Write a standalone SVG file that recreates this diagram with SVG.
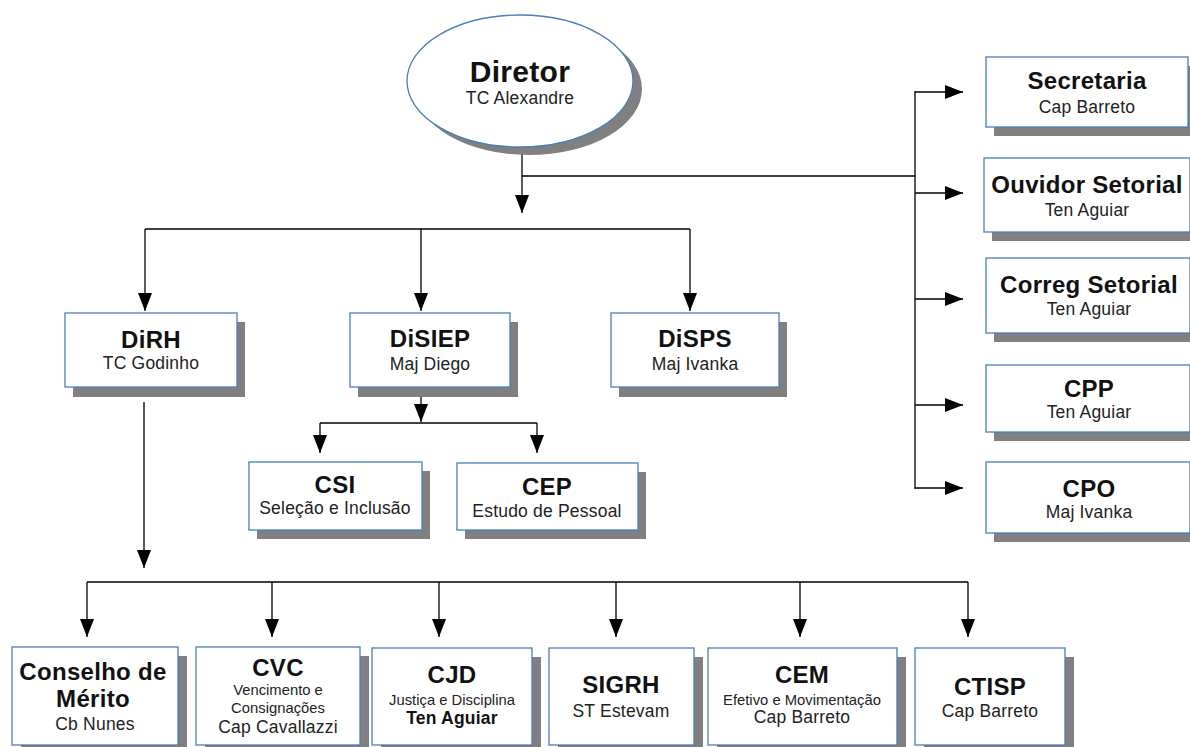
<svg xmlns="http://www.w3.org/2000/svg" width="1190" height="747" viewBox="0 0 1190 747">
<defs>
<marker id="ah" markerUnits="userSpaceOnUse" markerWidth="18" markerHeight="14" refX="18" refY="7" orient="auto"><path d="M0,0 L18,7 L0,14 z" fill="#000"/></marker>
<style>
.box{fill:#fff;stroke:#4a7ebb;stroke-width:1.3}
.sh{fill:#808080}
.ln{fill:none;stroke:#000;stroke-width:1.3}
.ar{fill:none;stroke:#000;stroke-width:1.3;marker-end:url(#ah)}
text{font-family:"Liberation Sans",Arial,sans-serif;text-anchor:middle;fill:#111}
.t{font-weight:bold;font-size:24px;letter-spacing:0.3px}
.s{font-size:17.5px;fill:#222;letter-spacing:0.2px}
.xs{font-size:14.8px;fill:#222}
.sb{font-size:17.5px;font-weight:bold;letter-spacing:0.2px}
</style>
</defs>
<rect width="1190" height="747" fill="#fff"/>
<g id="connectors">
<path class="ar" d="M522,148 V213"/>
<path class="ln" d="M522,176 H915 M915,91 V489"/>
<path class="ar" d="M915,92 H963"/>
<path class="ar" d="M915,193 H963"/>
<path class="ar" d="M915,299 H963"/>
<path class="ar" d="M915,405 H963"/>
<path class="ar" d="M915,488 H963"/>
<path class="ln" d="M145,229 H690"/>
<path class="ar" d="M145,229 V311"/>
<path class="ar" d="M421,229 V311"/>
<path class="ar" d="M690,229 V311"/>
<path class="ar" d="M421,388 V422"/>
<path class="ln" d="M320,423 H537"/>
<path class="ar" d="M320,423 V453"/>
<path class="ar" d="M537,423 V453"/>
<path class="ar" d="M144,402 V568"/>
<path class="ln" d="M87,582 H968"/>
<path class="ar" d="M87,582 V637"/>
<path class="ar" d="M272,582 V637"/>
<path class="ar" d="M439,582 V637"/>
<path class="ar" d="M616,582 V637"/>
<path class="ar" d="M800,582 V637"/>
<path class="ar" d="M968,582 V637"/>
</g>
<g id="diretor">
<ellipse class="sh" cx="529" cy="89" rx="113" ry="66"/>
<ellipse class="box" cx="520" cy="81" rx="113" ry="66"/>
<text class="t" x="520" y="82" style="font-size:30px">Diretor</text>
<text class="s" x="520" y="104">TC Alexandre</text>
</g>
<g id="secretaria">
<rect class="sh" x="994" y="66" width="202" height="70"/>
<rect class="box" x="986" y="57" width="202" height="70"/>
<text class="t" x="1087" y="89">Secretaria</text>
<text class="s" x="1087" y="113">Cap Barreto</text>
</g>
<g id="ouvidor">
<rect class="sh" x="992" y="167" width="206" height="74"/>
<rect class="box" x="984" y="158" width="206" height="74"/>
<text class="t" x="1087" y="193">Ouvidor Setorial</text>
<text class="s" x="1087" y="216">Ten Aguiar</text>
</g>
<g id="correg">
<rect class="sh" x="994" y="267" width="202" height="75"/>
<rect class="box" x="986" y="258" width="204" height="75"/>
<text class="t" x="1089" y="293">Correg Setorial</text>
<text class="s" x="1089" y="315">Ten Aguiar</text>
</g>
<g id="cpp">
<rect class="sh" x="994" y="374" width="202" height="67"/>
<rect class="box" x="986" y="365" width="204" height="67"/>
<text class="t" x="1089" y="397">CPP</text>
<text class="s" x="1089" y="418">Ten Aguiar</text>
</g>
<g id="cpo">
<rect class="sh" x="994" y="471" width="202" height="71"/>
<rect class="box" x="986" y="462" width="204" height="71"/>
<text class="t" x="1089" y="497">CPO</text>
<text class="s" x="1089" y="518">Maj Ivanka</text>
</g>
<g id="dirh">
<rect class="sh" x="73" y="322" width="172" height="75"/>
<rect class="box" x="65" y="313" width="172" height="74"/>
<text class="t" x="151" y="348">DiRH</text>
<text class="s" x="151" y="369">TC Godinho</text>
</g>
<g id="disiep">
<rect class="sh" x="358" y="322" width="160" height="75"/>
<rect class="box" x="350" y="313" width="160" height="74"/>
<text class="t" x="430" y="347">DiSIEP</text>
<text class="s" x="430" y="370">Maj Diego</text>
</g>
<g id="disps">
<rect class="sh" x="619" y="322" width="168" height="75"/>
<rect class="box" x="611" y="313" width="168" height="74"/>
<text class="t" x="695" y="347">DiSPS</text>
<text class="s" x="695" y="370">Maj Ivanka</text>
</g>
<g id="csi">
<rect class="sh" x="257" y="471" width="173" height="68"/>
<rect class="box" x="249" y="462" width="173" height="68"/>
<text class="t" x="335" y="493">CSI</text>
<text class="s" x="335" y="514">Seleção e Inclusão</text>
</g>
<g id="cep">
<rect class="sh" x="465" y="472" width="181" height="67"/>
<rect class="box" x="457" y="463" width="181" height="67"/>
<text class="t" x="547" y="495">CEP</text>
<text class="s" x="547" y="517">Estudo de Pessoal</text>
</g>
<g id="conselho">
<rect class="sh" x="21" y="656" width="166" height="98"/>
<rect class="box" x="12" y="647" width="166" height="98"/>
<text class="t" x="93" y="680">Conselho de</text>
<text class="t" x="93" y="707">Mérito</text>
<text class="s" x="95" y="730">Cb Nunes</text>
</g>
<g id="cvc">
<rect class="sh" x="205" y="656" width="164" height="98"/>
<rect class="box" x="196" y="647" width="164" height="98"/>
<text class="t" x="278" y="676">CVC</text>
<text class="xs" x="278" y="695">Vencimento e</text>
<text class="xs" x="278" y="713">Consignações</text>
<text class="s" x="278" y="733">Cap Cavallazzi</text>
</g>
<g id="cjd">
<rect class="sh" x="381" y="657" width="160" height="98"/>
<rect class="box" x="372" y="648" width="160" height="97"/>
<text class="t" x="452" y="683">CJD</text>
<text class="xs" x="452" y="705">Justiça e Disciplina</text>
<text class="sb" x="452" y="724">Ten Aguiar</text>
</g>
<g id="sigrh">
<rect class="sh" x="558" y="657" width="145" height="98"/>
<rect class="box" x="549" y="648" width="145" height="97"/>
<text class="t" x="621" y="693">SIGRH</text>
<text class="s" x="621" y="717">ST Estevam</text>
</g>
<g id="cem">
<rect class="sh" x="717" y="657" width="189" height="98"/>
<rect class="box" x="708" y="648" width="189" height="97"/>
<text class="t" x="802" y="683">CEM</text>
<text class="xs" x="802" y="705">Efetivo e Movimentação</text>
<text class="s" x="802" y="723">Cap Barreto</text>
</g>
<g id="ctisp">
<rect class="sh" x="924" y="657" width="150" height="98"/>
<rect class="box" x="915" y="648" width="150" height="97"/>
<text class="t" x="990" y="695">CTISP</text>
<text class="s" x="990" y="717">Cap Barreto</text>
</g>
</svg>
